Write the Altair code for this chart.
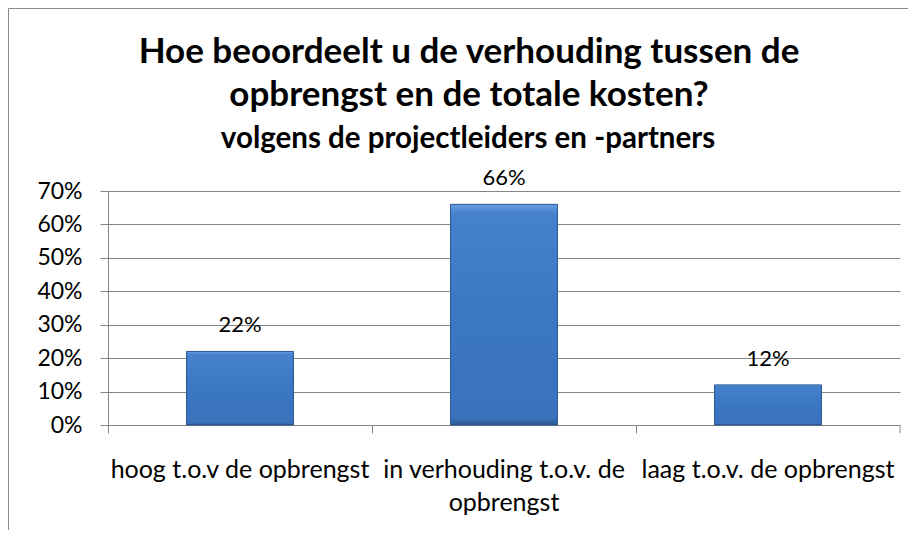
import altair as alt
import pandas as pd

categories = ["hoog t.o.v de opbrengst", "in verhouding t.o.v. de opbrengst", "laag t.o.v. de opbrengst"]
values = [0.22, 0.66, 0.12]
value_labels = ["22%", "66%", "12%"]
y_ticks = [0, 0.1, 0.2, 0.3, 0.4, 0.5, 0.6, 0.7]
title_lines = ["Hoe beoordeelt u de verhouding tussen de", "opbrengst en de totale kosten?"]
subtitle_text = ["volgens de projectleiders en -partners"]

df = pd.DataFrame({"cat": categories, "val": values, "lab": value_labels})
one = pd.DataFrame({"k": [0]})

FONT = "Lato"
GRAY = "#868686"
W, H = 792, 234

x_enc = alt.X(
    "cat:N", sort=categories, title=None,
    scale=alt.Scale(paddingInner=0, paddingOuter=0),
    axis=alt.Axis(
        bandPosition=0, labelAngle=0, labelFont=FONT, labelFontSize=25, labelColor="black",
        labelLineHeight=33, labelPadding=24, labelBaseline="top", tickSize=8, tickColor=GRAY,
        domainColor=GRAY, labelLimit=400, labelOverlap=False,
        labelExpr="datum.label == 'in verhouding t.o.v. de opbrengst' ? ['in verhouding t.o.v. de', 'opbrengst'] : datum.label",
    ),
)
y_enc = alt.Y(
    "val:Q", title=None,
    scale=alt.Scale(domain=[0, 0.7], nice=False),
    axis=alt.Axis(values=y_ticks, tickCount=8, format=".0%", labelFont=FONT, labelFontSize=23,
                  labelColor="black", tickSize=8, tickColor=GRAY, domainColor=GRAY, gridColor=GRAY,
                  labelPadding=18, labelOverlap=False, labelBound=False, labelFlush=False),
)

grad = alt.Gradient(
    gradient="linear", x1=0, x2=0, y1=0, y2=1,
    stops=[
        alt.GradientStop(color="#6a9fe0", offset=0),
        alt.GradientStop(color="#4681cc", offset=0.04),
        alt.GradientStop(color="#3c77c2", offset=0.5),
        alt.GradientStop(color="#3a73bc", offset=0.97),
        alt.GradientStop(color="#2c5892", offset=1),
    ],
)

bars = alt.Chart(df).mark_bar(
    width=alt.RelativeBandSize(0.405), color=grad, stroke="#2a5590", strokeWidth=1
).encode(x=x_enc, y=y_enc)

texts = alt.Chart(df).mark_text(
    dy=-19, baseline="alphabetic", font=FONT, fontSize=22, color="black"
).encode(x=x_enc, y=y_enc, text="lab:N")

end_tick = alt.Chart(one).mark_rule(color=GRAY).encode(
    x=alt.value(W), y=alt.value(H), y2=alt.value(H + 8)
)
frame_left = alt.Chart(one).mark_rule(color="#8c8c8c").encode(
    x=alt.value(-99.5), y=alt.value(-182.5), y2=alt.value(H + 110)
)
frame_top = alt.Chart(one).mark_rule(color="#8c8c8c").encode(
    x=alt.value(-99.5), x2=alt.value(W + 10), y=alt.value(-182.5)
)

t1 = alt.Chart(pd.DataFrame({"t": title_lines[:1]})).mark_text(
    font=FONT, fontSize=35, fontWeight="bold", color="black", baseline="alphabetic", align="center"
).encode(text="t:N", x=alt.value(361), y=alt.value(-128))
t2 = alt.Chart(pd.DataFrame({"t": title_lines[1:]})).mark_text(
    font=FONT, fontSize=35, fontWeight="bold", color="black", baseline="alphabetic", align="center"
).encode(text="t:N", x=alt.value(361), y=alt.value(-85))
st = alt.Chart(pd.DataFrame({"t": subtitle_text})).mark_text(
    font=FONT, fontSize=29.5, fontWeight="bold", color="black", baseline="alphabetic", align="center"
).encode(text="t:N", x=alt.value(360), y=alt.value(-43))

chart = alt.layer(bars, texts, end_tick, frame_left, frame_top, t1, t2, st).properties(
    width=W, height=H,
    autosize=alt.AutoSizeParams(type="none"),
    padding={"left": 100, "top": 183, "right": 8, "bottom": 105},
).configure_view(stroke=None)

chart.save("out.html", embed_options={"renderer": "svg", "actions": False})
